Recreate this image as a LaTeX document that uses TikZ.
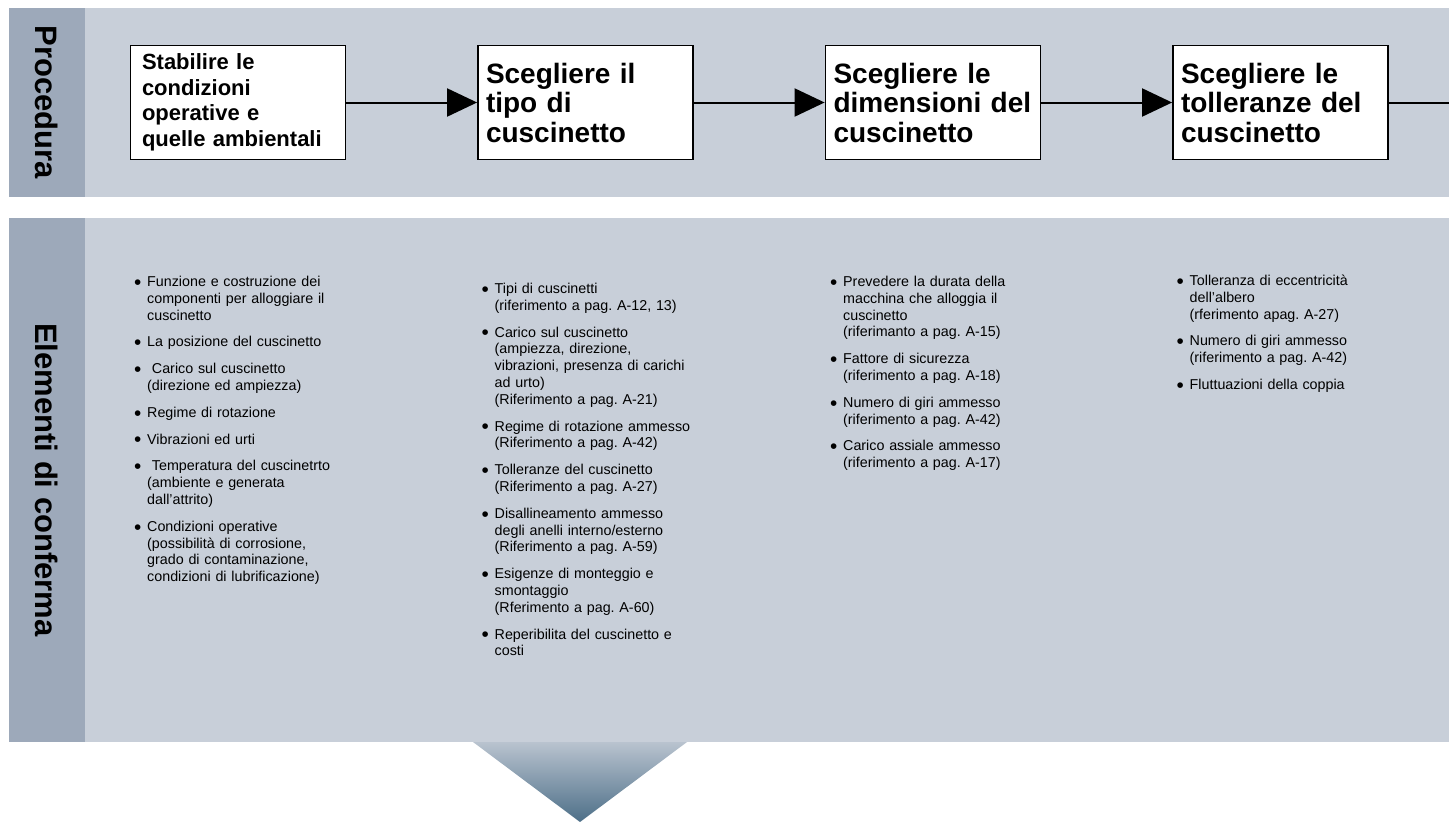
\documentclass[tikz,border=0pt]{standalone}
\usepackage{fontspec}
\setmainfont{Liberation Sans}
\usepackage{enumitem}
\usetikzlibrary{arrows.meta}

\definecolor{bandlight}{HTML}{C8CFD9}
\definecolor{banddark}{HTML}{9DA9BA}
\definecolor{tritop}{HTML}{B9C3CF}
\definecolor{tribot}{HTML}{4D6F88}

\frenchspacing
\setlist[itemize]{label=\raisebox{-2.8pt}{\scalebox{1.45}{\textbullet}}, align=left,
  leftmargin=13pt, labelwidth=8pt, labelsep=5pt,
  topsep=0pt, partopsep=0pt, parsep=0pt, itemsep=10pt}

\begin{document}
\begin{tikzpicture}[x=1pt, y=-1pt,
  procbox/.style={draw, line width=1.8pt, fill=white, minimum height=114pt,
    text width=199pt, inner xsep=8pt, align=left,
    font=\fontsize{28}{29.5}\selectfont\bfseries},
  flow/.style={line width=2pt, -{Triangle[length=30pt, width=28pt]}},
  sidelabel/.style={rotate=-90, font=\fontsize{31}{31}\selectfont\bfseries},
  checklist/.style={anchor=north west, inner sep=0pt, text width=215pt, align=left,
    font=\fontsize{14.3}{16.8}\selectfont}]

  \useasboundingbox (0,0) rectangle (1449,822);
  \fill [white] (0,0) rectangle (1449,822);

  % bands
  \fill [bandlight] (85,8) rectangle (1449,197);
  \fill [banddark] (9,8) rectangle (85,197);
  \fill [bandlight] (85,218) rectangle (1449,742);
  \fill [banddark] (9,218) rectangle (85,742);
  \shade [top color=tritop, bottom color=tribot] (473,742) -- (687,742) -- (580,822) -- cycle;

  \node [sidelabel] (proc) at (46.5,102.5) {Procedura};
  \node [sidelabel] (conf) at (46.5,480) {Elementi di conferma};

  % procedure steps
  \node [procbox, text width=192pt, inner xsep=11.5pt, font=\fontsize{22}{25.5}\selectfont\bfseries]
    (cond) at (238,102.5) {Stabilire le\\condizioni\\operative e\\quelle ambientali};
  \node [procbox] (tipo) at (585.5,102.5) {Scegliere il\\tipo di\\cuscinetto};
  \node [procbox] (dim) at (933,102.5) {Scegliere le\\dimensioni del\\cuscinetto};
  \node [procbox] (toll) at (1280.5,102.5) {Scegliere le\\tolleranze del\\cuscinetto};
  \coordinate (edge) at (1449,102.5);

  \draw [flow] (cond) -- (tipo);
  \draw [flow] (tipo) -- (dim);
  \draw [flow] (dim) -- (toll);
  \draw [line width=2pt] (toll) -- (edge);

  % items to check
  \node [checklist] (lcond) at (134,269.5) {\begin{itemize}
    \item Funzione e costruzione dei\\componenti per alloggiare il\\cuscinetto
    \item La posizione del cuscinetto
    \item \ Carico sul cuscinetto\\(direzione ed ampiezza)
    \item Regime di rotazione
    \item Vibrazioni ed urti
    \item \ Temperatura del cuscinetrto\\(ambiente e generata\\dall’attrito)
    \item Condizioni operative\\(possibilità di corrosione,\\grado di contaminazione,\\condizioni di lubrificazione)
  \end{itemize}};
  \node [checklist] (ltipo) at (481.5,276.5) {\begin{itemize}
    \item Tipi di cuscinetti\\(riferimento a pag. A-12, 13)
    \item Carico sul cuscinetto\\(ampiezza, direzione,\\vibrazioni, presenza di carichi\\ad urto)\\(Riferimento a pag. A-21)
    \item Regime di rotazione ammesso\\(Riferimento a pag. A-42)
    \item Tolleranze del cuscinetto\\(Riferimento a pag. A-27)
    \item Disallineamento ammesso\\degli anelli interno/esterno\\(Riferimento a pag. A-59)
    \item Esigenze di monteggio e\\smontaggio\\(Rferimento a pag. A-60)
    \item Reperibilita del cuscinetto e\\costi
  \end{itemize}};
  \node [checklist] (ldim) at (830,269.5) {\begin{itemize}
    \item Prevedere la durata della\\macchina che alloggia il\\cuscinetto\\(riferimanto a pag. A-15)
    \item Fattore di sicurezza\\(riferimento a pag. A-18)
    \item Numero di giri ammesso\\(riferimento a pag. A-42)
    \item Carico assiale ammesso\\(riferimento a pag. A-17)
  \end{itemize}};
  \node [checklist] (ltoll) at (1176.5,268.5) {\begin{itemize}
    \item Tolleranza di eccentricità\\dell’albero\\(rferimento apag. A-27)
    \item Numero di giri ammesso\\(riferimento a pag. A-42)
    \item Fluttuazioni della coppia
  \end{itemize}};

\end{tikzpicture}
\end{document}
